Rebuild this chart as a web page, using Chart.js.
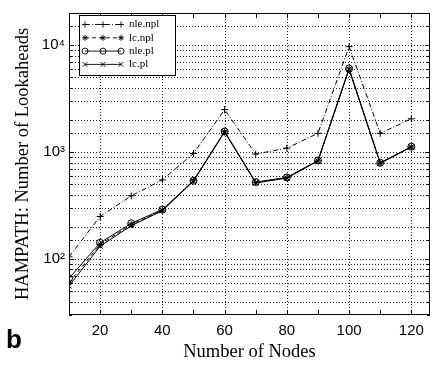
<!DOCTYPE html>
<html>
<head>
<meta charset="utf-8">
<script src="https://cdn.jsdelivr.net/npm/chart.js@4"></script>
<style>
  html, body { margin: 0; padding: 0; background: #fff; }
</style>
</head>
<body>
<canvas id="lineChart" width="435" height="366"></canvas>
<script>
const nodes = [10, 20, 30, 40, 50, 60, 70, 80, 90, 100, 110, 120];
const nleNpl = [105, 250, 390, 550, 970, 2500, 960, 1090, 1500, 9700, 1500, 2050];
const lcNpl  = [60, 137, 210, 287, 545, 1550, 520, 577, 830, 6000, 790, 1120];
const nlePl  = [66, 142, 216, 290, 540, 1560, 525, 580, 835, 6050, 795, 1125];
const lcPl   = [56, 132, 205, 283, 535, 1540, 515, 572, 825, 5950, 785, 1115];
const xTicks = [10, 20, 30, 40, 50, 60, 70, 80, 90, 100, 110, 120];
const xLabels = ['', '20', '', '40', '', '60', '', '80', '', '100', '', '120'];
const yLabels = { 100: '10²', 1000: '10³', 10000: '10⁴' };

function pts(vals) {
  return vals.map((v, i) => ({ x: nodes[i], y: v }));
}

function drawMarker(ctx, style, x, y, r) {
  ctx.beginPath();
  if (style === 'cross') {
    ctx.moveTo(x - r, y); ctx.lineTo(x + r, y);
    ctx.moveTo(x, y - r); ctx.lineTo(x, y + r);
  } else if (style === 'crossRot') {
    ctx.moveTo(x - r * 0.8, y - r * 0.8); ctx.lineTo(x + r * 0.8, y + r * 0.8);
    ctx.moveTo(x - r * 0.8, y + r * 0.8); ctx.lineTo(x + r * 0.8, y - r * 0.8);
  } else if (style === 'star') {
    ctx.moveTo(x - r, y); ctx.lineTo(x + r, y);
    ctx.moveTo(x, y - r); ctx.lineTo(x, y + r);
    ctx.moveTo(x - r * 0.7, y - r * 0.7); ctx.lineTo(x + r * 0.7, y + r * 0.7);
    ctx.moveTo(x - r * 0.7, y + r * 0.7); ctx.lineTo(x + r * 0.7, y - r * 0.7);
  } else {
    ctx.arc(x, y, r, 0, Math.PI * 2);
  }
  ctx.stroke();
}

// dotted grid under the lines
const dottedGrid = {
  id: 'dottedGrid',
  beforeDatasetsDraw(chart) {
    const { ctx, chartArea: a, scales: { x, y } } = chart;
    ctx.save();
    ctx.strokeStyle = '#222';
    ctx.lineWidth = 1;
    ctx.setLineDash([1, 2]);
    ctx.beginPath();
    xTicks.filter(v => v % 20 === 0).forEach(v => {
      const px = Math.round(x.getPixelForValue(v)) + 0.5;
      ctx.moveTo(px, a.top); ctx.lineTo(px, a.bottom);
    });
    y.ticks.forEach(t => {
      const py = Math.round(y.getPixelForValue(t.value)) + 0.5;
      if (py < a.top + 2 || py > a.bottom - 2) return;
      ctx.moveTo(a.left, py); ctx.lineTo(a.right, py);
    });
    ctx.stroke();
    ctx.restore();
  }
};

// box frame, inner tick marks, legend and panel letter
const extras = {
  id: 'extras',
  afterDraw(chart) {
    const { ctx, chartArea: a, scales: { x, y } } = chart;
    ctx.save();
    ctx.strokeStyle = '#000';
    ctx.lineWidth = 1;
    ctx.setLineDash([]);
    ctx.strokeRect(a.left + 0.5, a.top + 0.5, a.right - a.left - 1, a.bottom - a.top - 1);

    ctx.beginPath();
    xTicks.forEach(v => {
      const px = Math.round(x.getPixelForValue(v)) + 0.5;
      if (px <= a.left + 1) return;
      ctx.moveTo(px, a.bottom); ctx.lineTo(px, a.bottom - 5);
      ctx.moveTo(px, a.top); ctx.lineTo(px, a.top + 5);
    });
    y.ticks.forEach(t => {
      const py = Math.round(y.getPixelForValue(t.value)) + 0.5;
      const major = yLabels[t.value] !== undefined;
      const len = major ? 5 : 3;
      ctx.moveTo(a.left, py); ctx.lineTo(a.left + len, py);
      ctx.moveTo(a.right, py); ctx.lineTo(a.right - len, py);
    });
    ctx.stroke();

    // legend
    const lx = 79, ly = 15, lw = 96, lh = 60;
    ctx.fillStyle = '#fff';
    ctx.fillRect(lx, ly, lw, lh);
    ctx.strokeRect(lx + 0.5, ly + 0.5, lw, lh);
    ctx.font = '11px "Liberation Serif"';
    ctx.textBaseline = 'middle';
    chart.data.datasets.forEach((ds, i) => {
      const ry = ly + 9.5 + i * 13.3;
      ctx.strokeStyle = '#000';
      ctx.lineWidth = 0.9;
      ctx.setLineDash(ds.borderDash || []);
      ctx.beginPath();
      ctx.moveTo(lx + 6, ry); ctx.lineTo(lx + 42, ry);
      ctx.stroke();
      ctx.setLineDash([]);
      [6, 24, 42].forEach(dx => drawMarker(ctx, ds.pointStyle, lx + dx, ry, 3));
      ctx.fillStyle = '#000';
      ctx.fillText(ds.label, lx + 50, ry);
    });

    ctx.font = 'bold 26px "Liberation Sans"';
    ctx.textBaseline = 'alphabetic';
    ctx.fillText('b', 6, 348);
    ctx.restore();
  }
};

const ctx = document.getElementById('lineChart').getContext('2d');
new Chart(ctx, {
  type: 'line',
  data: {
    datasets: [
      { label: 'nle.npl', data: pts(nleNpl), borderDash: [5, 2, 1, 2], pointStyle: 'cross' },
      { label: 'lc.npl', data: pts(lcNpl), borderDash: [4, 3], pointStyle: 'star' },
      { label: 'nle.pl', data: pts(nlePl), borderDash: [], pointStyle: 'circle' },
      { label: 'lc.pl', data: pts(lcPl), borderDash: [], pointStyle: 'crossRot' }
    ].map(d => Object.assign(d, {
      borderColor: '#000',
      borderWidth: 1,
      pointBorderColor: '#000',
      pointBackgroundColor: 'rgba(0,0,0,0)',
      pointBorderWidth: 1,
      pointRadius: 3.5,
      tension: 0,
      fill: false
    }))
  },
  options: {
    responsive: false,
    animation: false,
    layout: { padding: { left: 0, right: 4, top: 5, bottom: 0 } },
    plugins: { legend: { display: false }, tooltip: { enabled: false } },
    scales: {
      x: {
        type: 'linear',
        min: 10,
        max: 126,
        afterBuildTicks: s => { s.ticks = xTicks.map(v => ({ value: v })); },
        afterFit: s => { s.height = 51; },
        ticks: {
          autoSkip: false,
          maxRotation: 0,
          padding: 7,
          color: '#000',
          font: { family: 'Liberation Sans', size: 15 },
          callback: (v, i) => xLabels[i]
        },
        grid: { display: false, drawTicks: false },
        border: { display: false },
        title: {
          display: true,
          text: 'Number of Nodes',
          color: '#000',
          font: { family: 'Liberation Serif', size: 18.5 },
          padding: { top: 0, bottom: 3 }
        }
      },
      y: {
        type: 'logarithmic',
        min: 30,
        max: 20000,
        afterFit: s => { s.width = 69; },
        ticks: {
          autoSkip: false,
          padding: 4,
          color: '#000',
          font: { family: 'Liberation Sans', size: 15 },
          callback: v => yLabels[v] || ''
        },
        grid: { display: false, drawTicks: false },
        border: { display: false },
        title: {
          display: true,
          text: 'HAMPATH: Number of Lookaheads',
          color: '#000',
          font: { family: 'Liberation Serif', size: 18.5 },
          padding: { top: 12, bottom: 0 }
        }
      }
    }
  },
  plugins: [dottedGrid, extras]
});
</script>
</body>
</html>
